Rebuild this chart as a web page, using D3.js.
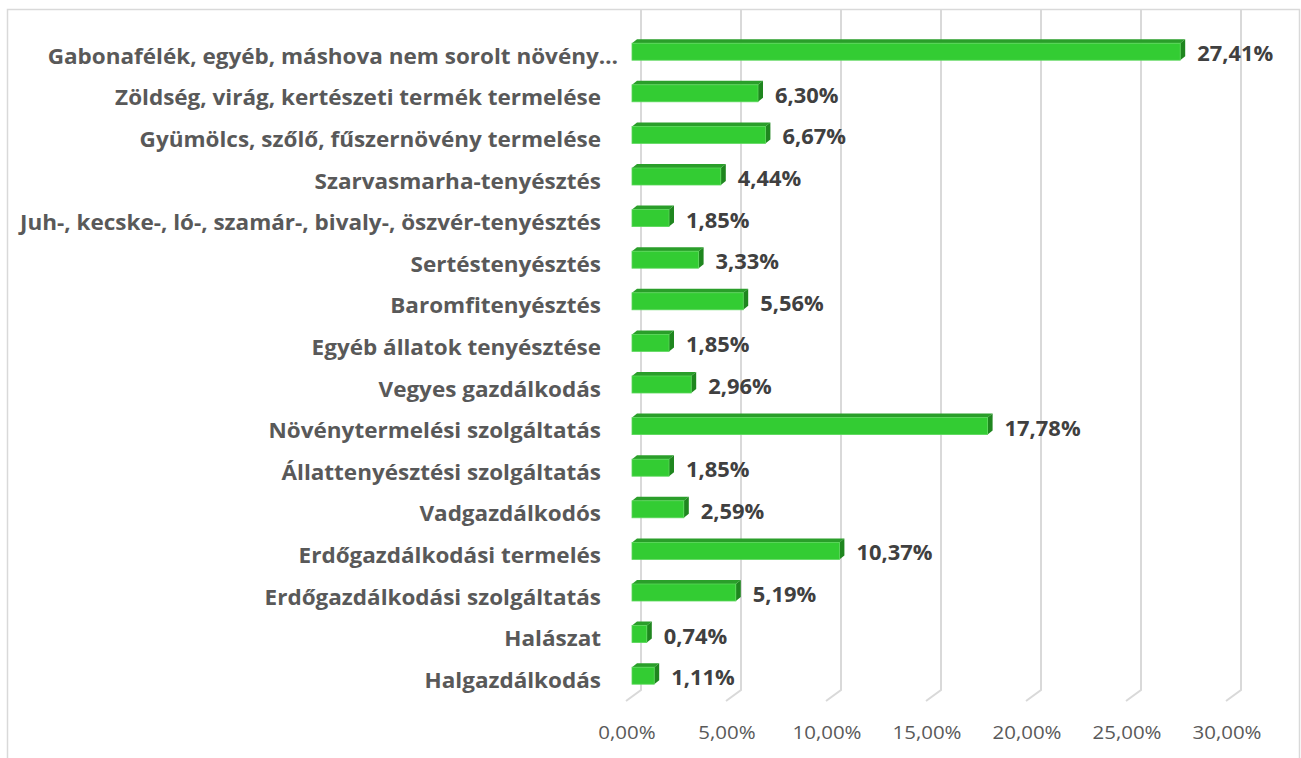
<!DOCTYPE html>
<html>
<head>
<meta charset="utf-8">
<script src="https://cdnjs.cloudflare.com/ajax/libs/d3/7.8.5/d3.min.js"></script>
<style>
  body { margin: 0; background: #fff; }
  svg { display: block; }
</style>
</head>
<body>
<svg id="chart" width="1301" height="758"></svg>
<script>
var categories = [
  "Gabonafélék, egyéb, máshova nem sorolt növény…",
  "Zöldség, virág, kertészeti termék termelése",
  "Gyümölcs, szőlő, fűszernövény termelése",
  "Szarvasmarha-tenyésztés",
  "Juh-, kecske-, ló-, szamár-, bivaly-, öszvér-tenyésztés",
  "Sertéstenyésztés",
  "Baromfitenyésztés",
  "Egyéb állatok tenyésztése",
  "Vegyes gazdálkodás",
  "Növénytermelési szolgáltatás",
  "Állattenyésztési szolgáltatás",
  "Vadgazdálkodós",
  "Erdőgazdálkodási termelés",
  "Erdőgazdálkodási szolgáltatás",
  "Halászat",
  "Halgazdálkodás"
];
var values = [27.41, 6.30, 6.67, 4.44, 1.85, 3.33, 5.56, 1.85, 2.96, 17.78, 1.85, 2.59, 10.37, 5.19, 0.74, 1.11];
var ticks = [0, 5, 10, 15, 20, 25, 30];

var fmt = function(v) { return v.toFixed(2).replace(".", ",") + "%"; };
var font = "'Open Sans', sans-serif";

var svg = d3.select("#chart");

// chart border
svg.append("path")
    .attr("d", "M7.5,758 V9.5 H1299.5 V758")
    .attr("fill", "none")
    .attr("stroke", "#d9d9d9")
    .attr("stroke-width", 1.5);

var x = d3.scaleLinear().domain([0, 30]).range([632, 1232]);
var y = d3.scaleBand().domain(categories).range([30.9, 696.5]);

var dx = 5, dy = 4, barH = 17;

// gridlines with 3D floor edge
svg.append("g")
  .selectAll("path")
  .data(ticks)
  .enter().append("path")
    .attr("d", function(d) {
      var bx = x(d) + 9;
      return "M" + bx + ",10 V690 L" + (x(d) - 6) + ",701";
    })
    .attr("fill", "none")
    .attr("stroke", "#d9d9d9")
    .attr("stroke-width", 2);

// width factor so the font matches the narrower original one
function squeeze(txt, weight, size, target) {
  var t = svg.append("text")
      .attr("font-family", font)
      .attr("font-weight", weight)
      .attr("font-size", size)
      .text(txt);
  var w = t.node().getComputedTextLength();
  t.remove();
  return target / w;
}
function natural(sel) { return sel.node().getComputedTextLength(); }
function fitText(k) {
  return function() {
    var s = d3.select(this);
    s.attr("textLength", natural(s) * k).attr("lengthAdjust", "spacingAndGlyphs");
  };
}

var catSize = 20.5, valSize = 21, tickSize = 18.5;
var catK = squeeze(categories[4], "bold", catSize, 581);
var valK = squeeze("27,41%", "bold", valSize, 76);
var tickK = squeeze("30,00%", "normal", tickSize, 69);

// tick labels
svg.append("g")
  .selectAll("text")
  .data(ticks)
  .enter().append("text")
    .attr("x", function(d) { return x(d) - 5; })
    .attr("y", 739)
    .attr("text-anchor", "middle")
    .attr("font-family", font)
    .attr("font-size", tickSize)
    .attr("fill", "#595959")
    .text(function(d) { return fmt(d); })
    .each(fitText(tickK));

function center(i) { return y(categories[i]) + y.bandwidth() / 2; }

// category labels
svg.append("g")
  .selectAll("text")
  .data(categories)
  .enter().append("text")
    .attr("x", function(d, i) { return i === 0 ? 618 : 601; })
    .attr("y", function(d, i) { return center(i) + 12; })
    .attr("text-anchor", "end")
    .attr("font-family", font)
    .attr("font-weight", "bold")
    .attr("font-size", catSize)
    .attr("fill", "#595959")
    .text(function(d) { return d; })
    .each(fitText(catK));

var bars = svg.append("g")
  .selectAll("g")
  .data(values)
  .enter().append("g");

function yt(i) { return center(i) - barH / 2; }

// top face
bars.append("path")
    .attr("d", function(d, i) {
      var x0 = x(0), x1 = x(d), t = yt(i);
      return "M" + x0 + "," + t + " L" + (x0 + dx) + "," + (t - dy) +
             " L" + (x1 + dx) + "," + (t - dy) + " L" + x1 + "," + t + "Z";
    })
    .attr("fill", "#2a9e2a");

// side face
bars.append("path")
    .attr("d", function(d, i) {
      var x1 = x(d), t = yt(i);
      return "M" + x1 + "," + t + " L" + (x1 + dx) + "," + (t - dy) +
             " L" + (x1 + dx) + "," + (t - dy + barH) + " L" + x1 + "," + (t + barH) + "Z";
    })
    .attr("fill", "#1f861f");

// front face
bars.append("rect")
    .attr("x", x(0))
    .attr("y", function(d, i) { return yt(i); })
    .attr("width", function(d) { return x(d) - x(0); })
    .attr("height", barH)
    .attr("fill", "#33cc33")
    .attr("stroke", "#5ad85a")
    .attr("stroke-width", 0.8);

// value labels
bars.append("text")
    .attr("x", function(d) { return x(d) + dx + 12; })
    .attr("y", function(d, i) { return center(i) + 9.5; })
    .attr("font-family", font)
    .attr("font-weight", "bold")
    .attr("font-size", valSize)
    .attr("fill", "#404040")
    .text(function(d) { return fmt(d); })
    .each(fitText(valK));
</script>
</body>
</html>
